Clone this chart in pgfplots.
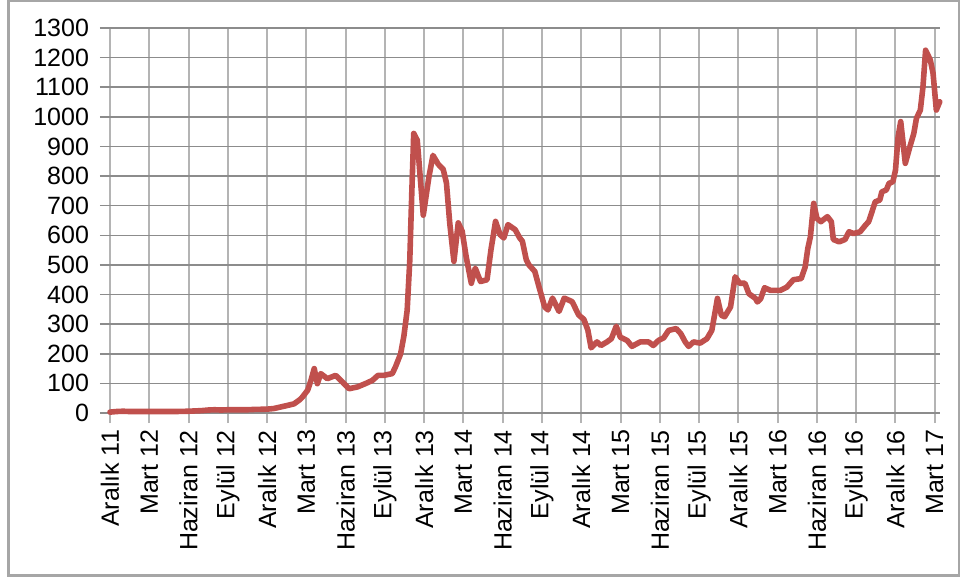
\documentclass[border=0pt]{standalone}
\usepackage{pgfplots}
\pgfplotsset{compat=1.18}
\usepackage{fontspec}
\setmainfont{Liberation Sans}
\definecolor{linered}{HTML}{C0504D}
\definecolor{hgrid}{HTML}{8C8C8C}
\definecolor{vgrid}{HTML}{B4B4B4}
\definecolor{framegray}{HTML}{A6A6A6}

% months counted from December 2011; closing price in USD
\pgfplotstableread{
m v
0 3
0.5 5
1 6
1.5 5
2 5
3 5
4 5
5 5
6 6
6.5 7
7 8
7.5 10
8 11
8.5 10
9 11
10 11
10.5 11
11 12
12 13
12.5 15
13 20
13.5 25
14.06 31
14.5 45
14.7 54
15.1 77
15.35 110
15.6 150
15.84 99
16.1 133
16.6 116
17.24 127
17.75 105
18.26 82
18.9 88
19.5 99
20.04 110
20.47 127
20.9 127
21.56 133
21.8 155
22.2 200
22.45 260
22.7 347
22.9 516
23.05 740
23.2 944
23.47 921
23.93 668
24.36 797
24.67 870
25.07 840
25.45 823
25.7 777
25.95 642
26.27 512
26.6 642
26.9 614
27.2 529
27.6 438
27.9 489
28.3 444
28.8 450
29.1 551
29.45 647
29.8 602
30.08 591
30.4 636
30.95 619
31.3 591
31.5 580
31.8 517
32.0 500
32.45 478
32.8 421
33.2 359
33.45 348
33.8 388
34.3 343
34.7 388
35.3 376
35.8 331
36.2 316
36.5 280
36.75 220
37.2 240
37.5 228
37.96 240
38.3 251
38.67 293
38.98 256
39.5 245
39.87 225
40.5 240
41.14 240
41.5 228
41.9 245
42.3 254
42.67 279
43.25 285
43.6 268
43.94 240
44.2 225
44.57 240
45.08 236
45.6 251
45.97 279
46.2 336
46.4 387
46.7 330
46.95 325
47.4 358
47.75 460
48.1 438
48.5 438
48.8 403
49.3 387
49.45 375
49.7 386
50 423
50.45 414
51.2 414
51.7 425
52.2 450
52.8 454
53.1 493
53.3 555
53.5 595
53.75 708
54 657
54.3 646
54.8 663
55.1 646
55.25 586
55.7 578
56.15 586
56.45 612
56.8 606
57.3 612
57.7 634
57.95 646
58.2 679
58.45 713
58.8 719
58.96 747
59.3 753
59.5 775
59.8 781
60 820
60.2 933
60.4 984
60.75 843
61.1 899
61.4 944
61.6 995
61.9 1023
62.1 1102
62.3 1225
62.66 1192
62.87 1147
63.12 1023
63.38 1051
}\pricedata

\begin{document}
\begin{tikzpicture}[x=0.5pt,y=0.5pt]
\useasboundingbox (-110,-166) rectangle (850,413);
\draw[framegray, line width=1.5] (-101,-162) rectangle (849,412);
\begin{axis}[
  at={(0,0)}, anchor=south west,
  scale only axis,
  width=415pt, height=192.5pt,
  xmin=0, xmax=63.4,
  ymin=0, ymax=1300,
  xtick={0,3,...,63},
  xticklabels={Aralık 11,Mart 12,Haziran 12,Eylül 12,Aralık 12,Mart 13,Haziran 13,Eylül 13,Aralık 13,Mart 14,Haziran 14,Eylül 14,Aralık 14,Mart 15,Haziran 15,Eylül 15,Aralık 15,Mart 16,Haziran 16,Eylül 16,Aralık 16,Mart 17},
  ytick={0,100,...,1300},
  /pgf/number format/assume math mode=true,
  /pgf/number format/1000 sep={},
  tick label style={font=\fontsize{12.5}{14}\selectfont, black},
  xticklabel style={rotate=90, anchor=east, xshift=0pt},
  yticklabel style={xshift=-2pt},
  tick align=outside,
  major tick length=5pt,
  xtick style={vgrid, line width=1pt},
  ytick style={hgrid, line width=0.8pt},
  xmajorgrids, ymajorgrids,
  x grid style={vgrid, line width=1pt},
  y grid style={hgrid, line width=0.8pt},
  axis line style={draw=none},
  axis x line*=bottom, axis y line*=left,
  clip=false,
]
\draw[hgrid, line width=0.9pt] (axis cs:0,0) -- (axis cs:63.4,0);
\addplot[linered, line width=2.8pt, line join=round, line cap=round, mark=none] table[x=m, y=v] {\pricedata};
\end{axis}
\end{tikzpicture}
\end{document}
